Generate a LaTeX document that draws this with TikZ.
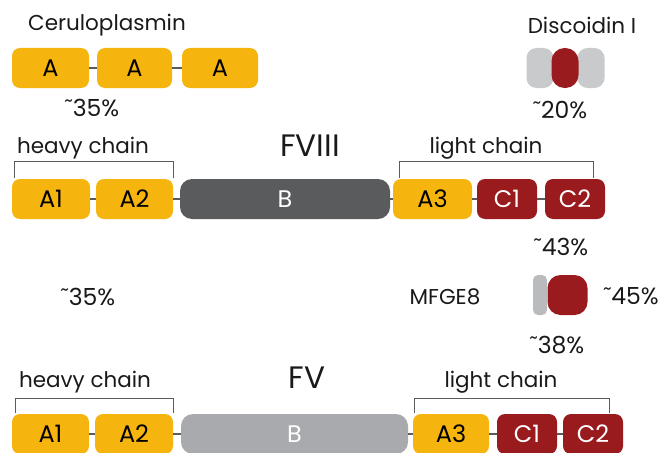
\documentclass[tikz,border=0pt]{standalone}
\usepackage{fontspec}
\setmainfont{Poppins}
\usepackage{xcolor}
\usepackage{tikz}
\usetikzlibrary{positioning}

\definecolor{dgold}{HTML}{F6B40E}
\definecolor{dred}{HTML}{991B1E}
\definecolor{dgrey}{HTML}{5A5B5D}
\definecolor{lgrey}{HTML}{A8AAAD}
\definecolor{pgrey}{HTML}{C9CACC}

\tikzset{
  dom/.style={rounded corners=8pt, minimum height=40pt, inner sep=0pt,
    font=\fontsize{24}{26}\selectfont},
  adom/.style={dom, fill=dgold, text=black},
  cdom/.style={dom, fill=dred, text=white},
  bdom/.style={dom, text=white},
  link/.style={draw=dgrey, line width=1.3pt},
  brace/.style={draw=dgrey, line width=1pt},
  lbl/.style={font=\fontsize{21.5}{24}\selectfont, text=black!90},
  pct/.style={font=\fontsize{23.5}{26}\selectfont, text=black!90},
  big/.style={font=\fontsize{31}{34}\selectfont, text=black!90}
}

\begin{document}
\begin{tikzpicture}[x=1pt, y=-1pt]
  \useasboundingbox (0,0) rectangle (668,452);

  % ceruloplasmin
  \node[lbl] (cpT) at (107,25) {Ceruloplasmin};
  \node[adom, minimum width=77pt] (cp1) at (50.5,68) {A};
  \node[adom, minimum width=75pt] (cp2) at (134.5,68) {A};
  \node[adom, minimum width=76pt] (cp3) at (220,68) {A};
  \draw[link] (cp1) -- (cp2);
  \draw[link] (cp2) -- (cp3);
  \node[pct] (cpP) at (92,108) {˜35\%};

  % discoidin I
  \node[lbl] (dsT) at (582,25) {Discoidin I};
  \node[dom, fill=pgrey, minimum width=27pt, rounded corners=10pt] (ds1) at (540,68) {};
  \node[dom, fill=pgrey, minimum width=27pt, rounded corners=10pt] (ds3) at (591,68) {};
  \node[dom, fill=dred, minimum width=27pt, rounded corners=13pt] (ds2) at (565,68) {};
  \node[pct] (dsP) at (560,110) {˜20\%};

  % FVIII
  \node[lbl] (hc8) at (83,148) {heavy chain};
  \node[big] (f8) at (310,146) {FVIII};
  \node[lbl] (lc8) at (486,148) {light chain};
  \node[adom, minimum width=78pt] (a18) at (51,199) {A1};
  \node[adom, minimum width=77pt] (a28) at (134.5,199) {A2};
  \node[bdom, fill=dgrey, minimum width=210pt, rounded corners=12pt] (b8) at (285,199) {B};
  \node[adom, minimum width=79pt] (a38) at (432.5,199) {A3};
  \node[cdom, minimum width=60pt] (c18) at (507,199) {C1};
  \node[cdom, minimum width=60pt] (c28) at (575,199) {C2};
  \draw[link] (a18) -- (a28);
  \draw[link] (a28) -- (b8);
  \draw[link] (b8) -- (a38);
  \draw[link] (a38) -- (c18);
  \draw[link] (c18) -- (c28);
  \draw[brace] ([xshift=3pt, yshift=1pt]a18.north west) |- ([yshift=17pt]a28.north east) -- ([yshift=1pt]a28.north east);
  \draw[brace] ([xshift=7pt, yshift=1pt]a38.north west) |- ([xshift=-12pt, yshift=17pt]c28.north east) -- ([xshift=-12pt, yshift=1pt]c28.north east);
  \node[pct] (p43) at (561,247) {˜43\%};

  % middle
  \node[pct] (p35) at (88,297) {˜35\%};
  \node[lbl] (mfT) at (445,297) {MFGE8};
  \node[dom, fill=lgrey!80, minimum width=14pt, rounded corners=5pt] (mf1) at (540,295) {};
  \node[dom, fill=dred, minimum width=40pt, rounded corners=13pt] (mf2) at (567.5,295) {};
  \node[pct] (p45) at (631,296) {˜45\%};
  \node[pct] (p38) at (557,345) {˜38\%};

  % FV
  \node[lbl] (hc5) at (85,382) {heavy chain};
  \node[big] (f5) at (307,378) {FV};
  \node[lbl] (lc5) at (501,382) {light chain};
  \node[adom, minimum width=77pt] (a15) at (50.5,434) {A1};
  \node[adom, minimum width=78pt] (a25) at (134,434) {A2};
  \node[bdom, fill=lgrey, minimum width=227pt, rounded corners=12pt] (b5) at (294.5,434) {B};
  \node[adom, minimum width=76pt] (a35) at (451,434) {A3};
  \node[cdom, minimum width=60pt] (c15) at (527,434) {C1};
  \node[cdom, minimum width=60pt] (c25) at (593,434) {C2};
  \draw[link] (a15) -- (a25);
  \draw[link] (a25) -- (b5);
  \draw[link] (b5) -- (a35);
  \draw[link] (a35) -- (c15);
  \draw[link] (c15) -- (c25);
  \draw[brace] ([xshift=4pt, yshift=1pt]a15.north west) |- ([yshift=15pt]a25.north east) -- ([yshift=1pt]a25.north east);
  \draw[brace] ([xshift=2pt, yshift=1pt]a35.north west) |- ([xshift=-14pt, yshift=15pt]c25.north east) -- ([xshift=-14pt, yshift=1pt]c25.north east);
\end{tikzpicture}
\end{document}
